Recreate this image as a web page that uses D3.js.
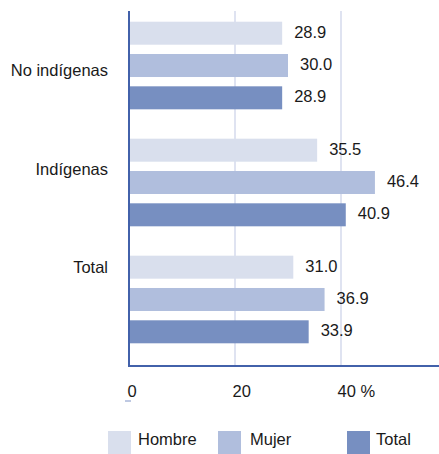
<!DOCTYPE html>
<html>
<head>
<meta charset="utf-8">
<script src="https://cdn.jsdelivr.net/npm/d3@7"></script>
<style>
  html, body { margin: 0; padding: 0; background: #ffffff; }
  svg { display: block; }
  text { font-family: "Liberation Sans", Arial, Helvetica, sans-serif; fill: #1a1a1a; }
</style>
</head>
<body>
<svg id="chart" width="439" height="454"></svg>
<script>
const categories = ["No indígenas", "Indígenas", "Total"];
const seriesNames = ["Hombre", "Mujer", "Total"];
const hombre = [28.9, 35.5, 31.0];
const mujer  = [30.0, 46.4, 36.9];
const total  = [28.9, 40.9, 33.9];
const xTicks = [0, 20, 40];
const xTickLabels = ["0", "20", "40 %"];
const colors = ["#d9dfed", "#b0bedd", "#778fc1"];

const seriesValues = [hombre, mujer, total];
const rows = [];
categories.forEach((c, i) => {
  seriesNames.forEach((s, j) => rows.push({ cat: c, series: s, value: seriesValues[j][i], si: j }));
});

const svg = d3.select("#chart");
const axisColor = "#4261aa";
const gridColor = "#dfe3f1";
const fontSize = 16.5;

const x = d3.scaleLinear().domain([0, 60]).range([129, 447]);
const yTop = 11, yBottom = 366;

const yGroup = d3.scaleBand().domain(categories).range([21.7, 343.3]).paddingInner(0.251).paddingOuter(0);
const yInner = d3.scaleBand().domain(seriesNames).range([0, yGroup.bandwidth()]).paddingInner(0.288).paddingOuter(0);
const yLabel = d3.scalePoint().domain(categories).range([75.7, 273.3]);

// gridlines
svg.append("g").selectAll("line").data(xTicks.filter(d => d > 0)).join("line")
  .attr("x1", d => x(d)).attr("x2", d => x(d))
  .attr("y1", yTop).attr("y2", yBottom)
  .attr("stroke", gridColor).attr("stroke-width", 2);

// bars
svg.append("g").selectAll("rect").data(rows).join("rect")
  .attr("x", x(0))
  .attr("y", d => yGroup(d.cat) + yInner(d.series))
  .attr("width", d => x(d.value) - x(0))
  .attr("height", yInner.bandwidth())
  .attr("fill", d => colors[d.si]);

// value labels
svg.append("g").selectAll("text").data(rows).join("text")
  .attr("x", d => x(d.value) + 12)
  .attr("y", d => yGroup(d.cat) + yInner(d.series) + yInner.bandwidth() / 2 - 1.5)
  .attr("dy", "0.36em")
  .attr("font-size", fontSize)
  .text(d => d.value.toFixed(1));

// axes lines
svg.append("line").attr("x1", x(0)).attr("x2", x(0)).attr("y1", yTop).attr("y2", yBottom + 1)
  .attr("stroke", axisColor).attr("stroke-width", 2);
svg.append("line").attr("x1", x(0) - 1).attr("x2", 439).attr("y1", yBottom).attr("y2", yBottom)
  .attr("stroke", axisColor).attr("stroke-width", 2);

// x tick labels
svg.append("g").selectAll("text").data(xTicks).join("text")
  .attr("x", (d, i) => x(d) - 1.5 - i)
  .attr("y", 397)
  .attr("font-size", fontSize)
  .text((d, i) => xTickLabels[i]);
// small dash under 0
svg.append("line").attr("x1", x(0) - 4).attr("x2", x(0) + 2).attr("y1", 401).attr("y2", 401)
  .attr("stroke", "#7f93c6").attr("stroke-width", 1);

// category labels
svg.append("g").selectAll("text").data(categories).join("text")
  .attr("x", 108)
  .attr("y", d => yLabel(d))
  .attr("text-anchor", "end")
  .attr("font-size", fontSize)
  .text(d => d);

// legend
const legendSwatchX = [108, 218, 347];
const legend = svg.append("g").selectAll("g").data(seriesNames).join("g")
  .attr("transform", (d, i) => `translate(${legendSwatchX[i]},431)`);
legend.append("rect").attr("width", 23).attr("height", 23).attr("fill", (d, i) => colors[i]);
legend.append("text").attr("x", (d, i) => i === 2 ? 29 : 30 + (i === 1 ? 2 : 0)).attr("y", 14)
  .attr("font-size", fontSize).text(d => d);
</script>
</body>
</html>
